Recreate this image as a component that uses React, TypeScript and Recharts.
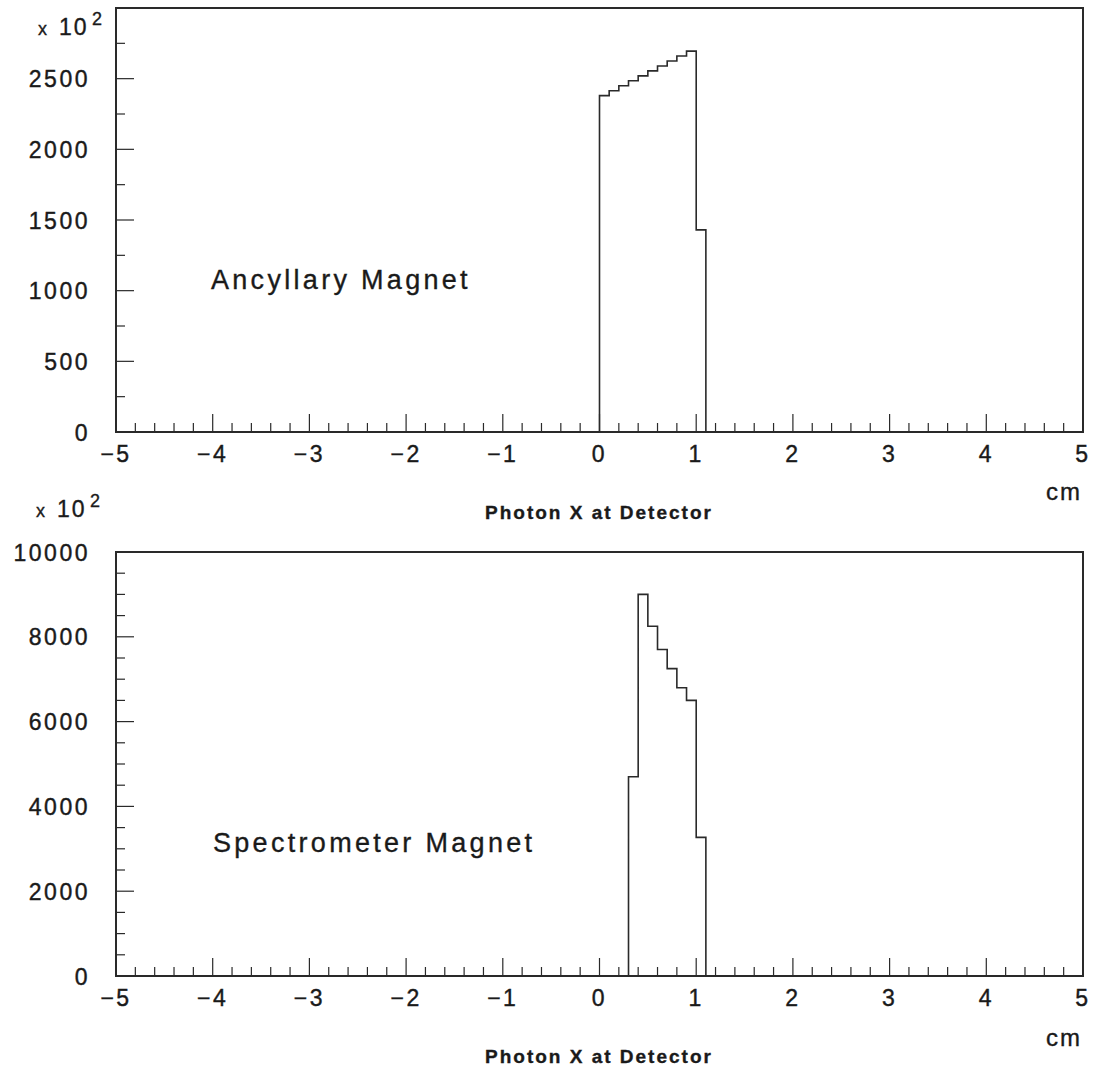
import { LineChart, Line, XAxis, YAxis, ReferenceArea } from "recharts"

// x axis: labelled units, 5 minor divisions per unit
const xLabels = [-5, -4, -3, -2, -1, 0, 1, 2, 3, 4, 5]
const xMinorPerUnit = 5
const binWidth = 0.1

// Ancyllary magnet histogram (counts in units of 10^2)
const ancBins = [0, 0.1, 0.2, 0.3, 0.4, 0.5, 0.6, 0.7, 0.8, 0.9, 1.0]
const ancCounts = [2380, 2415, 2450, 2485, 2520, 2555, 2590, 2625, 2660, 2695, 1430]
const ancTicks = [0, 250, 500, 750, 1000, 1250, 1500, 1750, 2000, 2250, 2500, 2750]
const ancLabels = [0, 500, 1000, 1500, 2000, 2500]

// Spectrometer magnet histogram
const specBins = [0.3, 0.4, 0.5, 0.6, 0.7, 0.8, 0.9, 1.0]
const specCounts = [4700, 9000, 8250, 7700, 7250, 6800, 6500, 3270]
const specTicks = [
  0, 500, 1000, 1500, 2000, 2500, 3000, 3500, 4000, 4500,
  5000, 5500, 6000, 6500, 7000, 7500, 8000, 8500, 9000, 9500, 10000,
]
const specLabels = [0, 2000, 4000, 6000, 8000, 10000]

const INK = "#2a2a2a"
const TXT = "#1a1a1a"
const FONT = "'Liberation Sans', Arial, Helvetica, sans-serif"

const r3 = (v: number) => Math.round(v * 1000) / 1000

const xTicks: number[] = []
xLabels.forEach((v, i) => {
  xTicks.push(v)
  if (i < xLabels.length - 1) {
    for (let k = 1; k < xMinorPerUnit; k++) xTicks.push(r3(v + k / xMinorPerUnit))
  }
})

function toSteps(bins: number[], counts: number[]) {
  const pts = [{ x: -5, y: 0 }]
  bins.forEach((lo, i) => pts.push({ x: lo, y: counts[i] }))
  pts.push({ x: r3(bins[bins.length - 1] + binWidth), y: 0 })
  pts.push({ x: 5, y: 0 })
  return pts
}

const fmtX = (v: number) => (v < 0 ? "\u2212" + Math.abs(v) : String(v))

const XTick = (props: any) => {
  const { x, y, payload } = props
  const major = xLabels.includes(payload.value)
  return (
    <g>
      <line x1={x} y1={y} x2={x} y2={y - (major ? 18 : 9)} stroke={INK} strokeWidth={1.2} />
      {major && (
        <text x={x} y={y + 30} textAnchor="middle" fontFamily={FONT} fontSize={23} letterSpacing={2.5}
          fill={TXT} stroke={TXT} strokeWidth={0.4}>
          {fmtX(payload.value)}
        </text>
      )}
    </g>
  )
}

const makeYTick = (labels: number[]) => (props: any) => {
  const { x, y, payload } = props
  const major = labels.includes(payload.value)
  return (
    <g>
      <line x1={x} y1={y} x2={x + (major ? 18 : 9)} y2={y} stroke={INK} strokeWidth={1.2} />
      {major && (
        <text x={x - 26} y={y + 8.5} textAnchor="end" fontFamily={FONT} fontSize={23} letterSpacing={2.5}
          fill={TXT} stroke={TXT} strokeWidth={0.4}>
          {payload.value}
        </text>
      )}
    </g>
  )
}

function Histo({ bins, counts, yMax, yTicks, yLabels, top }: {
  bins: number[]; counts: number[]; yMax: number; yTicks: number[]; yLabels: number[]; top: number
}) {
  const data = toSteps(bins, counts)
  return (
    <LineChart width={1095} height={462 + top} data={data} margin={{ top, right: 12, bottom: 8, left: 16 }}>
      <XAxis
        dataKey="x" type="number" domain={[-5, 5]} ticks={xTicks} interval={0}
        tickSize={0} tickMargin={0} tick={<XTick />} axisLine={false} height={30} allowDataOverflow
      />
      <YAxis
        type="number" domain={[0, yMax]} ticks={yTicks} interval={0}
        tickSize={0} tickMargin={0} tick={makeYTick(yLabels)} axisLine={false} width={100}
      />
      <ReferenceArea x1={-5} x2={5} y1={0} y2={yMax} fill="none" fillOpacity={0} stroke={INK} strokeWidth={2} />
      <Line dataKey="y" type="stepAfter" stroke={INK} strokeWidth={1.6} dot={false} isAnimationActive={false} />
    </LineChart>
  )
}

function Exponent({ x, y }: { x: number; y: number }) {
  const txt = { fontFamily: FONT, fill: TXT, stroke: TXT, strokeWidth: 0.35 }
  return (
    <g>
      <text x={x} y={y} fontSize={18} {...txt}>x</text>
      <text x={x + 21} y={y} fontSize={23} letterSpacing={2} {...txt}>10</text>
      <text x={x + 54} y={y - 10} fontSize={18} {...txt}>2</text>
    </g>
  )
}

export default function App() {
  const txt = { fontFamily: FONT, fill: TXT, stroke: TXT, strokeWidth: 0.35 }
  return (
    <div style={{ position: "fixed", left: 0, top: 0, width: 1095, height: 1072, background: "#fff" }}>
      <div style={{ position: "absolute", left: 0, top: 0 }}>
        <Histo bins={ancBins} counts={ancCounts} yMax={3000} yTicks={ancTicks} yLabels={ancLabels} top={8} />
      </div>
      <div style={{ position: "absolute", left: 0, top: 524 }}>
        <Histo bins={specBins} counts={specCounts} yMax={10000} yTicks={specTicks} yLabels={specLabels} top={28} />
      </div>
      <svg width={1095} height={1072} style={{ position: "absolute", left: 0, top: 0, pointerEvents: "none" }}>
        <Exponent x={38} y={35} />
        <Exponent x={36} y={517} />

        <text x={211} y={289} fontSize={27} letterSpacing={3.3} {...txt}>Ancyllary Magnet</text>
        <text x={213} y={852} fontSize={27} letterSpacing={3.3} {...txt}>Spectrometer Magnet</text>

        <text x={1082} y={500} fontSize={24} letterSpacing={2} textAnchor="end" {...txt}>cm</text>
        <text x={1082} y={1046} fontSize={24} letterSpacing={2} textAnchor="end" {...txt}>cm</text>

        <text x={485} y={519} fontSize={19} fontWeight="bold" letterSpacing={2} {...txt}>Photon X at Detector</text>
        <text x={485} y={1063} fontSize={19} fontWeight="bold" letterSpacing={2} {...txt}>Photon X at Detector</text>
      </svg>
    </div>
  )
}
